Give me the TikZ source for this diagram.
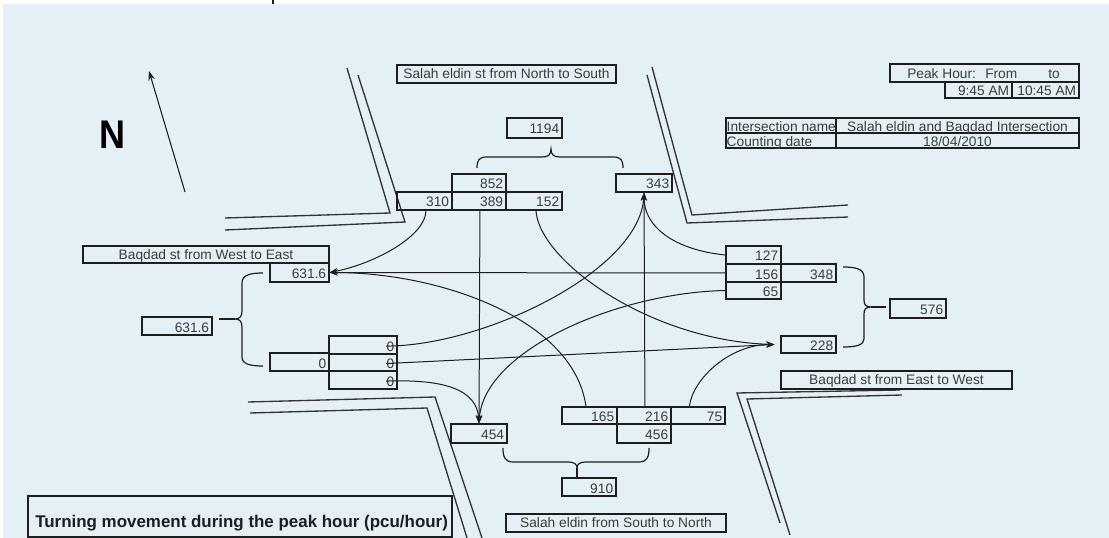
\documentclass[tikz,border=0pt]{standalone}
\usepackage{fontspec}
\setmainfont{Liberation Sans}
\usetikzlibrary{arrows.meta,calc}
\definecolor{paper}{HTML}{E4F0F6}
\definecolor{ink}{HTML}{1E1E1E}
\definecolor{txt}{HTML}{3C3C3C}
\newcommand\cellfont{\fontsize{10.3}{12}\selectfont}

\tikzset{
  boxcell/.style={draw=ink, line width=0.9pt, rectangle, inner sep=0pt},
  numtxt/.style={inner sep=0pt, font=\cellfont, text=txt, text height=7.4pt, text depth=0pt},
  conn/.style={draw=ink, line width=0.75pt, -{Stealth[length=6pt,width=4.5pt]}},
  street/.style={draw=ink!90, line width=1pt},
  brc/.style={draw=ink, line width=0.9pt},
}

% cell with right-aligned number: name, x1, y1, x2, y2, text
\newcommand\cellbox[6]{%
  \pgfmathsetmacro\cbw{(#4-#2)*0.75}%
  \pgfmathsetmacro\cbh{(#5-#3)*0.75}%
  \node[boxcell, minimum width=\cbw pt, minimum height=\cbh pt] (#1) at ({(#2+#4)/2},{(#3+#5)/2}) {};%
  \node[numtxt, anchor=east] (#1t) at ([xshift=-2.4pt,yshift=-0.8pt]#1.east) {#6};%
}
% cell with centred caption
\newcommand\labelbox[6]{%
  \pgfmathsetmacro\cbw{(#4-#2)*0.75}%
  \pgfmathsetmacro\cbh{(#5-#3)*0.75}%
  \node[boxcell, numtxt, minimum width=\cbw pt, minimum height=\cbh pt] (#1) at ({(#2+#4)/2},{(#3+#5)/2}) {#6};%
}
% empty frame
\newcommand\plainbox[5]{%
  \pgfmathsetmacro\cbw{(#4-#2)*0.75}%
  \pgfmathsetmacro\cbh{(#5-#3)*0.75}%
  \node[boxcell, minimum width=\cbw pt, minimum height=\cbh pt] (#1) at ({(#2+#4)/2},{(#3+#5)/2}) {};%
}

\begin{document}
\begin{tikzpicture}[x=0.75pt, y=-0.75pt]
\useasboundingbox (0,0) rectangle (1109,538);
\fill[white] (0,0) rectangle (1109,538);
\fill[paper] (3,4) rectangle (1109,538);
\draw[ink, line width=0.8pt] (273,0) -- (273,4);

% ---- street kerbs ----
\draw[street] (347,68) -- (390,213) -- (225,218);
\draw[street] (358,75) -- (405,222) -- (225,230);
\draw[street] (652,67) -- (692,215) -- (848,205);
\draw[street] (647,75) -- (687,223) -- (848,217);
\draw[street] (248,402) -- (435,397) -- (482,538);
\draw[street] (250,413) -- (427,408) -- (467,538);
\draw[street] (900,390) -- (737,393) -- (780,523);
\draw[street] (902,395) -- (747,399) -- (790,535);

% ---- north arrow ----
\coordinate (ntail) at (185,192);
\coordinate (nhead) at (149,71);
\draw[ink, line width=0.8pt, -{Stealth[length=7pt,width=5pt]}] (ntail) -- (nhead);
\node[inner sep=0pt, font=\bfseries\fontsize{30}{32}\selectfont, text=black] (northN) at (112,134.5) {\scalebox{0.9}[1]{N}};

% ---- info tables ----
\plainbox{peak}{890}{64}{1079}{82}
\node[numtxt, anchor=west] (pk1) at (907,73.5) {Peak Hour:};
\node[numtxt, anchor=west] (pk2) at (985,73.5) {From};
\node[numtxt, anchor=west] (pk3) at (1048,73.5) {to};
\cellbox{tfrom}{945}{82}{1012}{98}{9:45 AM}
\cellbox{tto}{1012}{82}{1079}{98}{10:45 AM}
\plainbox{iname}{726}{118}{836}{133}
\plainbox{ival}{836}{118}{1079}{133}
\plainbox{cdate}{726}{133}{836}{148}
\plainbox{cval}{836}{133}{1079}{148}
\node[numtxt, anchor=west] (inamet) at ([xshift=0.8pt,yshift=-0.6pt]iname.west) {Intersection name};
\node[numtxt] (ivalt) at ([yshift=-0.6pt]ival.center) {Salah eldin and Baqdad Intersection};
\node[numtxt, anchor=west] (cdatet) at ([xshift=0.8pt,yshift=-0.6pt]cdate.west) {Counting date};
\node[numtxt] (cvalt) at ([yshift=-0.6pt]cval.center) {18/04/2010};

% ---- north approach ----
\labelbox{lns}{397}{65}{616}{83}{Salah eldin st from North to South}
\cellbox{b1194}{507}{118}{562}{138}{1194}
\cellbox{b852}{452}{174}{506}{192}{852}
\cellbox{b310}{397}{192}{452}{210}{310}
\cellbox{b389}{452}{192}{506}{210}{389}
\cellbox{b152}{506}{192}{562}{210}{152}
\cellbox{b343}{616}{174}{672}{192}{343}
\draw[brc] (477,168) .. controls (477,160) and (479,157) .. (487,157) -- (542,157)
  .. controls (548,157) and (551,155) .. (551,149)
  .. controls (551,155) and (554,157) .. (560,157) -- (613,157)
  .. controls (621,157) and (623,160) .. (623,168);

% ---- west approach ----
\labelbox{lwe}{83}{246}{329}{263}{Baqdad st from West to East}
\cellbox{b6316a}{270}{263}{329}{282}{631.6}
\cellbox{b6316b}{142}{317}{212}{335}{631.6}
\cellbox{b0w}{270}{353}{329}{371}{0}
\cellbox{b0a}{329}{336}{397}{354}{0}
\cellbox{b0b}{329}{354}{397}{371}{0}
\cellbox{b0c}{329}{371}{397}{389}{0}
\draw[brc] (263,273) .. controls (250,273) and (242,275) .. (242,283) -- (242,311)
  .. controls (242,316) and (240,319) .. (235,319)
  .. controls (240,319) and (242,322) .. (242,327) -- (242,357)
  .. controls (242,364) and (250,366) .. (263,366);
\draw[brc] (235,319) -- (219,319);

% ---- east approach ----
\cellbox{b127}{726}{246}{781}{264}{127}
\cellbox{b156}{726}{264}{781}{282}{156}
\cellbox{b348}{781}{264}{836}{282}{348}
\cellbox{b65}{726}{282}{781}{299}{65}
\cellbox{b228}{781}{336}{836}{353}{228}
\cellbox{b576}{890}{299}{946}{318}{576}
\labelbox{lew}{781}{371}{1012}{389}{Baqdad st from East to West}
\draw[brc] (843,267) .. controls (856,267) and (864,269) .. (864,277) -- (864,300)
  .. controls (864,305) and (866,307) .. (871,307)
  .. controls (866,307) and (864,309) .. (864,314) -- (864,339)
  .. controls (864,345) and (856,347) .. (843,347);
\draw[brc] (871,307) -- (886,307);

% ---- south approach ----
\cellbox{b165}{562}{407}{617}{424}{165}
\cellbox{b216}{617}{407}{671}{424}{216}
\cellbox{b75}{671}{407}{725}{424}{75}
\cellbox{b456}{617}{424}{671}{443}{456}
\cellbox{b454}{451}{424}{507}{443}{454}
\cellbox{b910}{562}{478}{616}{496}{910}
\labelbox{lsn}{506}{514}{726}{532}{Salah eldin from South to North}
\draw[brc] (503,448) .. controls (503,457) and (505,462) .. (513,462) -- (568,462)
  .. controls (574,462) and (577,464) .. (577,468)
  .. controls (577,464) and (580,462) .. (586,462) -- (639,462)
  .. controls (647,462) and (649,457) .. (649,448);
\draw[brc] (577,468) -- (b910.north -| 577,0);

% ---- title ----
\plainbox{tbox}{28}{496}{452}{537}
\node[anchor=base west, inner sep=0pt, font=\bfseries\fontsize{12.7}{14}\selectfont, text=ink] (ttl) at (35,527) {Turning movement during the peak hour (pcu/hour)};

% ---- turning movements ----
\draw[conn] (b310t.south west |- b310.south) .. controls +(0,25) and +(46,-9) .. (b6316a.east);
\draw[conn] (b389t.south west |- b389.south) -- (b454.north);
\draw[conn] (b152t.south west |- b152.south) .. controls +(3,50) and +(-125,-4) .. ([xshift=-4.5pt]b228.west);
\draw[conn] (b127.west) .. controls +(-50,-5) and +(0,35) .. (b343.south);
\draw[conn] (b156.west) -- (b6316a.east);
\draw[conn] (b65.west) .. controls +(-106,2) and +(5,-74) .. (b454.north);
\draw[conn] (b0at.west) .. controls +(98,0) and +(-4,78) .. (b343.south);
\draw[conn] (b0bt.west) -- ([xshift=-4.5pt]b228.west);
\draw[conn] (b0ct.west) .. controls +(58,-2) and +(-2,-34) .. (b454.north);
\draw[conn] ($(b165t.west |- b165.north)+(-5,0)$) .. controls +(-12,-87) and +(111,0) .. (b6316a.east);
\draw[conn] (b216t.north west |- b216.north) -- (b343.south);
\draw[conn] ($(b75.north west)+(19,0)$) .. controls +(3,-27) and +(-45,0) .. ([xshift=-4.5pt]b228.west);
\end{tikzpicture}
\end{document}
